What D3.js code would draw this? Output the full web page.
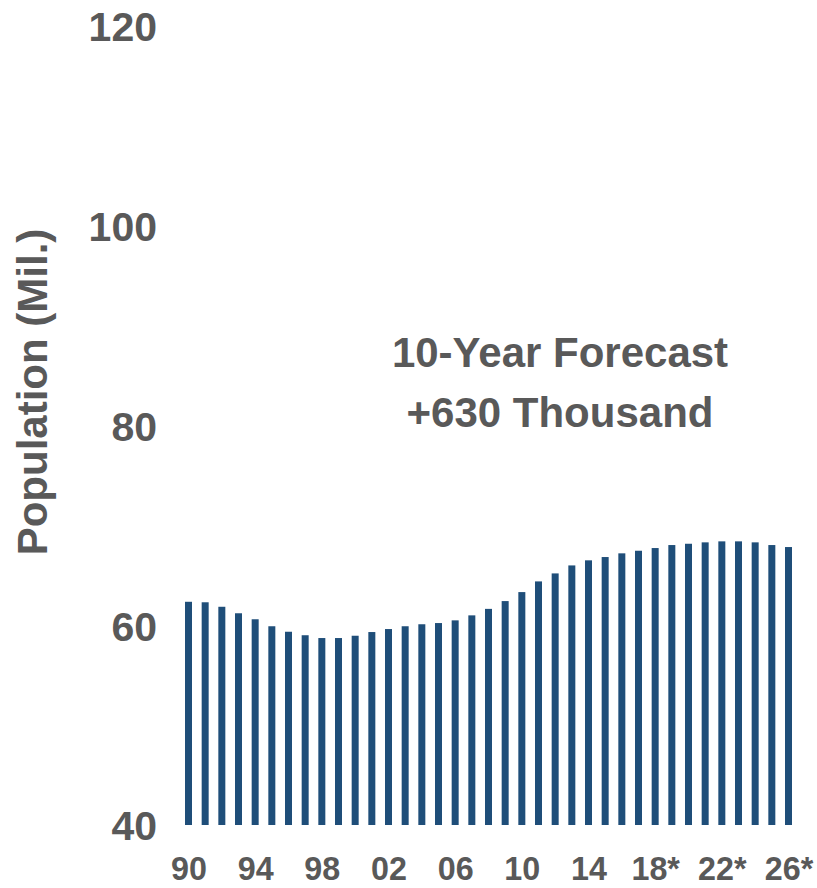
<!DOCTYPE html>
<html>
<head>
<meta charset="utf-8">
<script src="https://cdn.jsdelivr.net/npm/d3@7"></script>
<style>
  html, body { margin: 0; padding: 0; background: #ffffff; }
  svg { display: block; }
  text { font-family: "Liberation Sans", Arial, sans-serif; font-weight: bold; fill: #595959; }
</style>
</head>
<body>
<svg id="chart" width="817" height="888"></svg>
<script>
// Population by year, millions (2017 onward are forecasts)
const years = d3.range(1990, 2027);
const population = [
  62.35, 62.30, 61.85, 61.20, 60.60, 59.90, 59.35, 59.00, 58.72, 58.72,
  58.95, 59.32, 59.62, 59.90, 60.10, 60.22, 60.49, 60.99, 61.64, 62.42,
  63.32, 64.39, 65.19, 65.99, 66.50, 66.83, 67.20, 67.46, 67.73, 68.03,
  68.16, 68.30, 68.40, 68.40, 68.30, 68.03, 67.83
];
const firstForecastYear = 2017;
const yTicks = [40, 60, 80, 100, 120];
const xTickYears = [1990, 1994, 1998, 2002, 2006, 2010, 2014, 2018, 2022, 2026];
const yTitle = "Population (Mil.)";
const noteLines = ["10-Year Forecast", "+630 Thousand"];

const svg = d3.select("#chart");

const x = d3.scalePoint().domain(years).range([188.5, 788.5]);
const y = d3.scaleLinear().domain([40, 120]).range([825, 26]);
const barW = x.step() * 0.42;

// bars
svg.append("g")
  .selectAll("rect")
  .data(years.map((yr, i) => ({ yr, v: population[i] })))
  .join("rect")
  .attr("x", d => x(d.yr) - barW / 2)
  .attr("y", d => y(d.v))
  .attr("width", barW)
  .attr("height", d => y(40) - y(d.v))
  .attr("fill", "#1F4E79");

// y axis labels
const yAxis = svg.append("g")
  .attr("transform", "translate(157,0)")
  .call(d3.axisLeft(y).tickValues(yTicks).tickSize(0).tickPadding(0));
yAxis.select(".domain").remove();
yAxis.selectAll("text")
  .attr("font-size", 41)
  .attr("dy", "0.36em")
  .style("font-family", "'Liberation Sans', Arial, sans-serif")
  .style("font-weight", "bold")
  .attr("fill", "#595959");

// x axis labels (slightly condensed), baseline near the bottom edge
const xAxis = svg.append("g")
  .attr("transform", "translate(0,825)")
  .call(d3.axisBottom(x)
    .tickValues(xTickYears)
    .tickSize(0)
    .tickPadding(0)
    .tickFormat(d => String(d).slice(2) + (d >= firstForecastYear ? "*" : "")));
xAxis.select(".domain").remove();
xAxis.selectAll("text")
  .attr("font-size", 34)
  .attr("y", 55.5)
  .attr("dy", null)
  .attr("transform", "scale(0.95,1)")
  .style("font-family", "'Liberation Sans', Arial, sans-serif")
  .style("font-weight", "bold")
  .attr("fill", "#595959");

// y axis title
svg.append("text")
  .attr("transform", "translate(47,392) rotate(-90)")
  .attr("text-anchor", "middle")
  .attr("font-size", 42)
  .text(yTitle);

// forecast annotation
svg.append("text")
  .attr("text-anchor", "middle")
  .attr("font-size", 42)
  .selectAll("tspan")
  .data(noteLines)
  .join("tspan")
  .attr("x", 560)
  .attr("y", (d, i) => 366.5 + i * 60)
  .text(d => d);
</script>
</body>
</html>
